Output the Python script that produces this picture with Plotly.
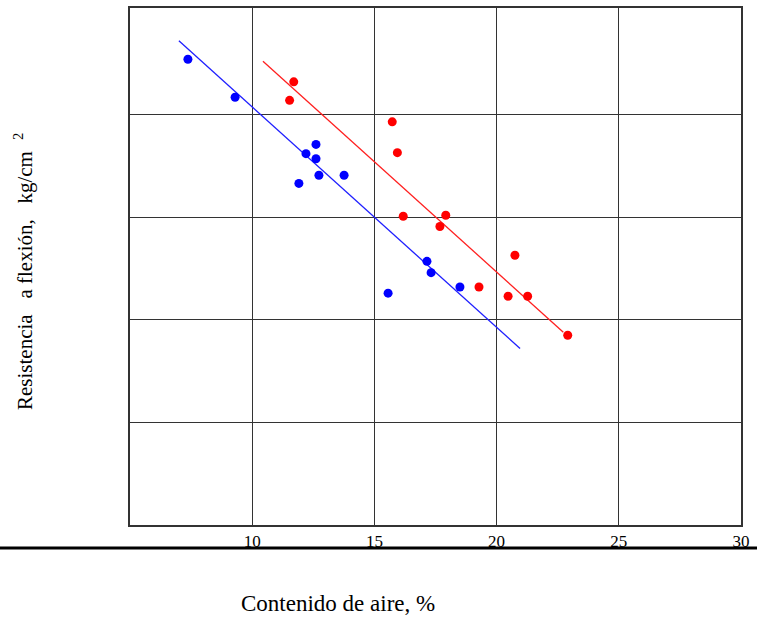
import plotly.graph_objects as go

# Data (y in arbitrary kg/cm^2-like units; axis has no tick labels)
blue_x = [7.37, 9.30, 12.20, 12.61, 12.61, 11.91, 12.73, 13.76, 15.56, 17.15, 17.32, 18.50]
blue_y = [45.4, 41.7, 36.2, 37.1, 35.7, 33.3, 34.1, 34.1, 22.6, 25.7, 24.6, 23.2]
red_x = [11.70, 11.53, 15.73, 15.94, 16.18, 17.92, 17.68, 20.75, 19.28, 20.47, 21.27, 22.91]
red_y = [43.2, 41.4, 39.3, 36.3, 30.1, 30.2, 29.1, 26.3, 23.2, 22.3, 22.3, 18.5]
blue_line_x = [7.0, 20.96]
blue_line_y = [47.2, 17.2]
red_line_x = [10.44, 22.73]
red_line_y = [45.2, 18.8]
x_ticks = [10, 15, 20, 25, 30]
y_grid = [10, 20, 30, 40]

fig = go.Figure()
fig.add_trace(go.Scatter(x=blue_line_x, y=blue_line_y, mode="lines",
                         line=dict(color="#2020ff", width=1.3), showlegend=False))
fig.add_trace(go.Scatter(x=red_line_x, y=red_line_y, mode="lines",
                         line=dict(color="#ff2020", width=1.3), showlegend=False))
fig.add_trace(go.Scatter(x=blue_x, y=blue_y, mode="markers",
                         marker=dict(color="#0000ff", size=9), showlegend=False))
fig.add_trace(go.Scatter(x=red_x, y=red_y, mode="markers",
                         marker=dict(color="#ff0000", size=9), showlegend=False))

serif = "Liberation Serif"
fig.update_layout(
    width=757, height=617,
    margin=dict(l=130, r=16, t=6, b=92),
    paper_bgcolor="white", plot_bgcolor="white",
    font=dict(family=serif, color="black"),
    xaxis=dict(range=[5, 30], tickvals=x_ticks, ticktext=[str(v) for v in x_ticks],
               showgrid=True, gridcolor="#333", gridwidth=1.4,
               showline=True, linecolor="#333", linewidth=1.5, mirror=True,
               zeroline=False, ticks="", tickfont=dict(size=17, family=serif, color="black")),
    yaxis=dict(range=[0, 50.4], tickvals=y_grid, showticklabels=False,
               showgrid=True, gridcolor="#333", gridwidth=1.4,
               showline=True, linecolor="#333", linewidth=1.5, mirror=True,
               zeroline=False, ticks=""),
    shapes=[dict(type="line", xref="paper", yref="paper",
                 x0=-130/611, x1=(757-130)/611,
                 y0=-23/519, y1=-23/519,
                 line=dict(color="black", width=3))],
    annotations=[
        dict(text="Contenido de aire, %", xref="paper", yref="paper",
             x=(338-130)/611, y=(525-604)/519, showarrow=False,
             xanchor="center", yanchor="middle",
             font=dict(size=23, family=serif, color="black")),
        dict(text="Resistencia   a flexión,   kg/cm<sup>   2</sup>", xref="paper", yref="paper",
             x=(24-130)/611, y=(525-271)/519, showarrow=False, textangle=-90,
             xanchor="center", yanchor="middle",
             font=dict(size=21, family=serif, color="black")),
    ],
)

fig.write_html("out.html")
